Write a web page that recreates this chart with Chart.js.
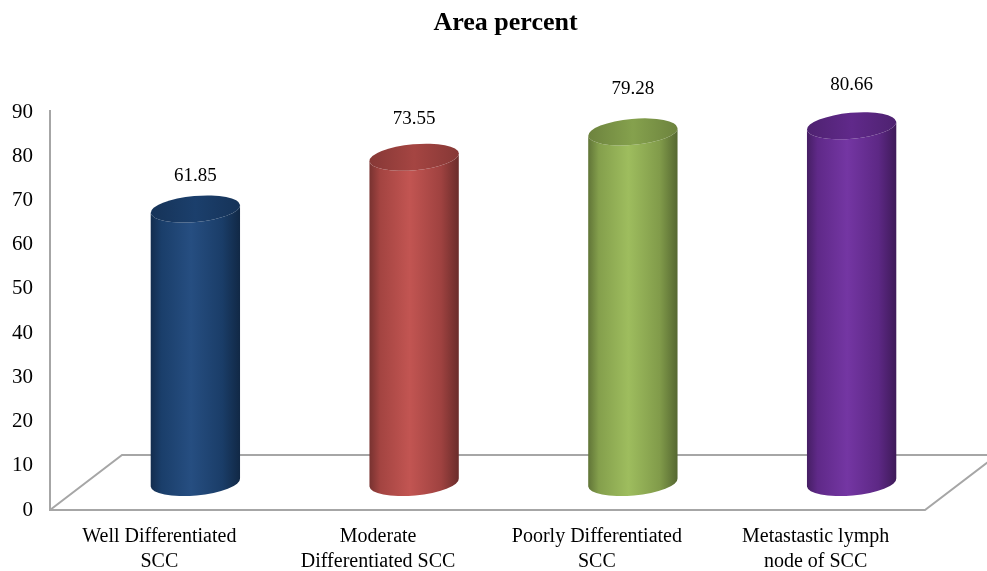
<!DOCTYPE html>
<html>
<head>
<meta charset="utf-8">
<script src="https://cdn.jsdelivr.net/npm/chart.js@4/dist/chart.umd.min.js"></script>
<style>
  html, body { margin: 0; padding: 0; background: #ffffff; }
  #wrap { width: 987px; height: 571px; }
</style>
</head>
<body>
<div id="wrap"><canvas id="c" width="987" height="571"></canvas></div>
<script>
// Categories (two-line labels) and measured area percentages
const categories = [
  ["Well Differentiated", "SCC"],
  ["Moderate", "Differentiated SCC"],
  ["Poorly Differentiated", "SCC"],
  ["Metastastic lymph", "node of SCC"]
];
const areaPercent = [61.85, 73.55, 79.28, 80.66];
const yTickValues = [0, 10, 20, 30, 40, 50, 60, 70, 80, 90];
const barColors = ["#1F497D", "#C0504D", "#9BBB59", "#7030A0"];
const chartTitle = "Area percent";

const FONT = "'Liberation Serif', 'Times New Roman', serif";
const DEPTH_X = 72;   // floor depth, horizontal
const DEPTH_Y = 55;   // floor depth, vertical

function shade(hex, f) {
  const n = parseInt(hex.slice(1), 16);
  let r = (n >> 16) & 255, g = (n >> 8) & 255, b = n & 255;
  const m = v => Math.max(0, Math.min(255, Math.round(f < 0 ? v * (1 + f) : v + (255 - v) * f)));
  return `rgb(${m(r)},${m(g)},${m(b)})`;
}

// Title, centred over the plot including half the floor depth
const titlePlugin = {
  id: "figTitle",
  afterDraw(chart) {
    const { ctx, chartArea: a } = chart;
    ctx.save();
    ctx.fillStyle = "#000";
    ctx.font = "bold 26px " + FONT;
    ctx.textAlign = "center";
    ctx.textBaseline = "alphabetic";
    ctx.fillText(chartTitle, (a.left + a.right + DEPTH_X / 2) / 2, 30);
    ctx.restore();
  }
};

// Floor parallelogram and the side wall edge
const floorPlugin = {
  id: "floor",
  beforeDatasetsDraw(chart) {
    const { ctx, chartArea: a } = chart;
    ctx.save();
    ctx.strokeStyle = "#a6a6a6";
    ctx.lineWidth = 2;
    ctx.beginPath();
    ctx.moveTo(a.left, a.top - 2);
    ctx.lineTo(a.left, a.bottom);
    ctx.lineTo(a.right, a.bottom);
    ctx.lineTo(a.right + DEPTH_X, a.bottom - DEPTH_Y);
    ctx.lineTo(a.left + DEPTH_X, a.bottom - DEPTH_Y);
    ctx.lineTo(a.left, a.bottom);
    ctx.stroke();
    ctx.restore();
  }
};

// Cylinders drawn on the bar elements, set back to mid-depth of the floor
const cylinderPlugin = {
  id: "cylinders",
  afterDatasetsDraw(chart) {
    const { ctx } = chart;
    const meta = chart.getDatasetMeta(0);
    const ds = chart.data.datasets[0];
    meta.data.forEach((el, i) => {
      const cx = el.x + DEPTH_X / 2;
      const top = el.y - DEPTH_Y / 2;
      const base = el.base - DEPTH_Y / 2;
      const rx = el.width / 2;
      const ry = 13;
      const rot = -0.09;
      const col = barColors[i];

      const g = ctx.createLinearGradient(cx - rx, 0, cx + rx, 0);
      g.addColorStop(0, shade(col, -0.38));
      g.addColorStop(0.12, shade(col, -0.15));
      g.addColorStop(0.45, shade(col, 0.03));
      g.addColorStop(0.8, shade(col, -0.17));
      g.addColorStop(1, shade(col, -0.45));

      ctx.save();
      ctx.beginPath();
      ctx.ellipse(cx, top, rx, ry, rot, Math.PI, Math.PI, false);
      ctx.ellipse(cx, base, rx, ry, rot, Math.PI, 0, true);
      ctx.ellipse(cx, top, rx, ry, rot, 0, Math.PI, false);
      ctx.closePath();
      ctx.fillStyle = g;
      ctx.fill();

      const gt = ctx.createLinearGradient(cx - rx, 0, cx + rx, 0);
      gt.addColorStop(0, shade(col, -0.3));
      gt.addColorStop(0.5, shade(col, -0.14));
      gt.addColorStop(1, shade(col, -0.3));
      ctx.beginPath();
      ctx.ellipse(cx, top, rx, ry, rot, 0, Math.PI * 2);
      ctx.fillStyle = gt;
      ctx.fill();

      // value label above the cylinder
      ctx.fillStyle = "#000";
      ctx.font = "19px " + FONT;
      ctx.textAlign = "center";
      ctx.textBaseline = "middle";
      const ly = Math.max(top - (33 + 5 * i), 85);
      ctx.fillText(ds.data[i].toFixed(2), cx, ly);
      ctx.restore();
    });
  }
};

new Chart(document.getElementById("c"), {
  type: "bar",
  data: {
    labels: categories,
    datasets: [{
      label: chartTitle,
      data: areaPercent,
      backgroundColor: "rgba(0,0,0,0)",
      borderWidth: 0,
      barPercentage: 0.41,
      categoryPercentage: 1
    }]
  },
  options: {
    responsive: false,
    animation: false,
    devicePixelRatio: 1,
    layout: { padding: { left: 0, right: 62, top: 112, bottom: 0 } },
    plugins: {
      legend: { display: false },
      tooltip: { enabled: false },
      title: { display: false }
    },
    scales: {
      x: {
        grid: { display: false, drawTicks: false },
        border: { display: false },
        ticks: {
          color: "#000",
          font: { family: FONT, size: 20, lineHeight: 1.25 },
          padding: 14,
          maxRotation: 0,
          autoSkip: false
        },
        afterFit(scale) { scale.height = 61; }
      },
      y: {
        min: 0,
        max: 90,
        grid: { display: false, drawTicks: false },
        border: { display: false },
        afterBuildTicks(scale) { scale.ticks = yTickValues.map(v => ({ value: v })); },
        ticks: {
          color: "#000",
          font: { family: FONT, size: 21 },
          padding: 17
        },
        afterFit(scale) { scale.width = 50; }
      }
    }
  },
  plugins: [floorPlugin, cylinderPlugin, titlePlugin]
});
</script>
</body>
</html>
